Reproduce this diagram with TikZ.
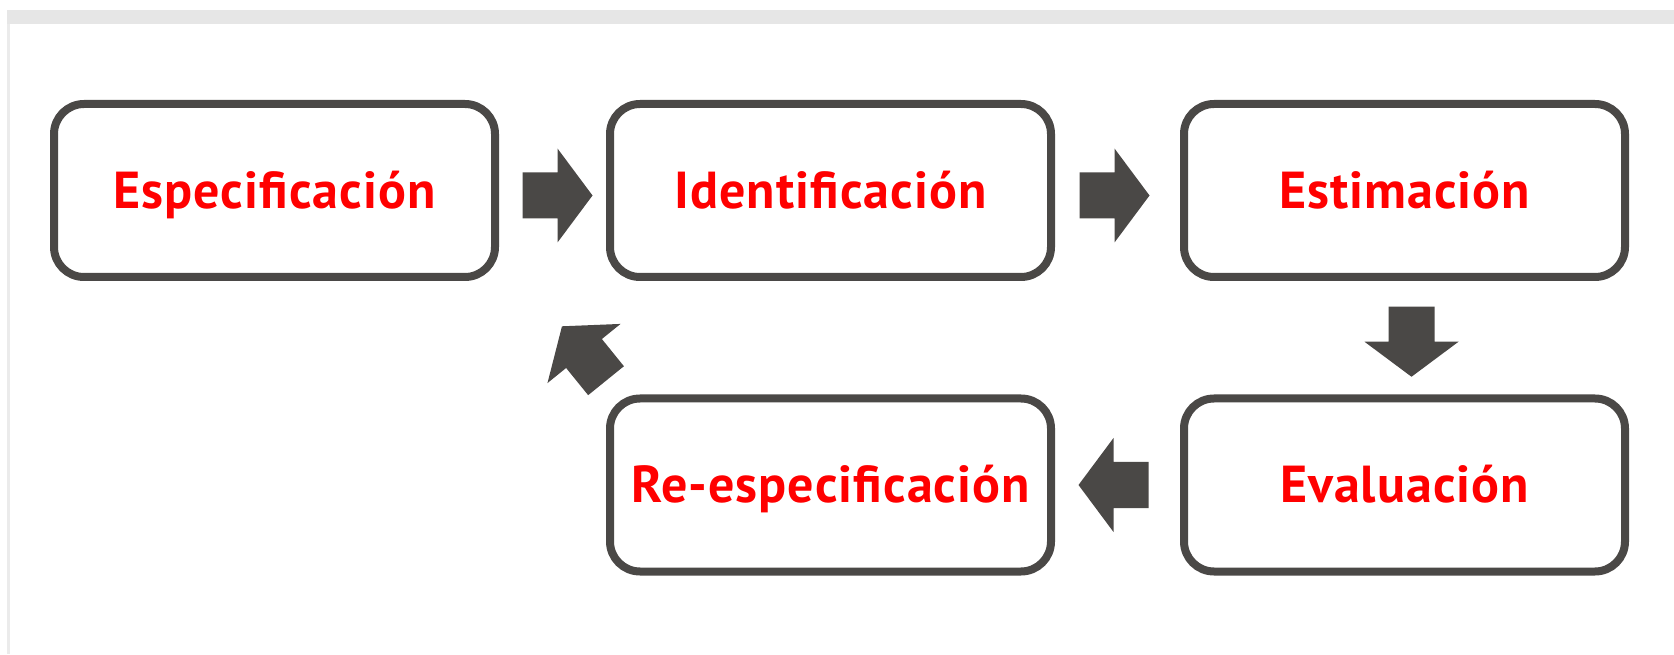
\documentclass[tikz,border=0pt]{standalone}
\usepackage{fontspec}
\setmainfont{PT Sans}[LetterSpace=2]
\usetikzlibrary{positioning,calc}

\definecolor{boxgray}{HTML}{4A4846}
\definecolor{bargray}{HTML}{E6E6E6}
\definecolor{labelred}{HTML}{FF0000}

\tikzset{
  stage/.style={draw=boxgray, line width=8pt, rounded corners=30pt,
    minimum width=441pt, minimum height=173pt, text=labelred,
    text height=36pt, text depth=0pt,
    font=\fontsize{52}{60}\selectfont\bfseries},
  blockarrow/.pic={
    \fill[boxgray] (-35,-23) -- (0,-23) -- (0,-47) -- (35,0) -- (0,47) -- (0,23) -- (-35,23) -- cycle;
  }
}

\begin{document}
\begin{tikzpicture}[x=1pt,y=1pt]
  \useasboundingbox (0,0) rectangle (1674,654);
  \fill[white] (0,0) rectangle (1674,654);
  % frame of the slide
  \fill[bargray] (7,630) rectangle (1674,644);
  \fill[bargray!80] (7,0) rectangle (10,630);

  \node[stage] (esp) at (274.5,463.5) {Especificación};
  \node[stage] (ide) at (830.5,463.5) {Identificación};
  \node[stage] (est) at (1404.5,463.5) {Estimación};
  \node[stage] (ree) at (830.5,169) {Re-especificación};
  \node[stage] (eva) at (1404.5,169) {Evaluación};

  \pic at ($(esp.east)!0.5!(ide.west)+(5,-5)$) {blockarrow};
  \pic at ($(ide.east)!0.5!(est.west)+(-3,-5)$) {blockarrow};
  \pic[rotate=-90] at ($(est.south)!0.5!(eva.north)+(7,-4)$) {blockarrow};
  \pic[rotate=180] at ($(ree.east)!0.5!(eva.west)+(-4,0)$) {blockarrow};
  \pic[rotate=129] at ($(ree.north west)+(-22,41)$) {blockarrow};
\end{tikzpicture}
\end{document}
